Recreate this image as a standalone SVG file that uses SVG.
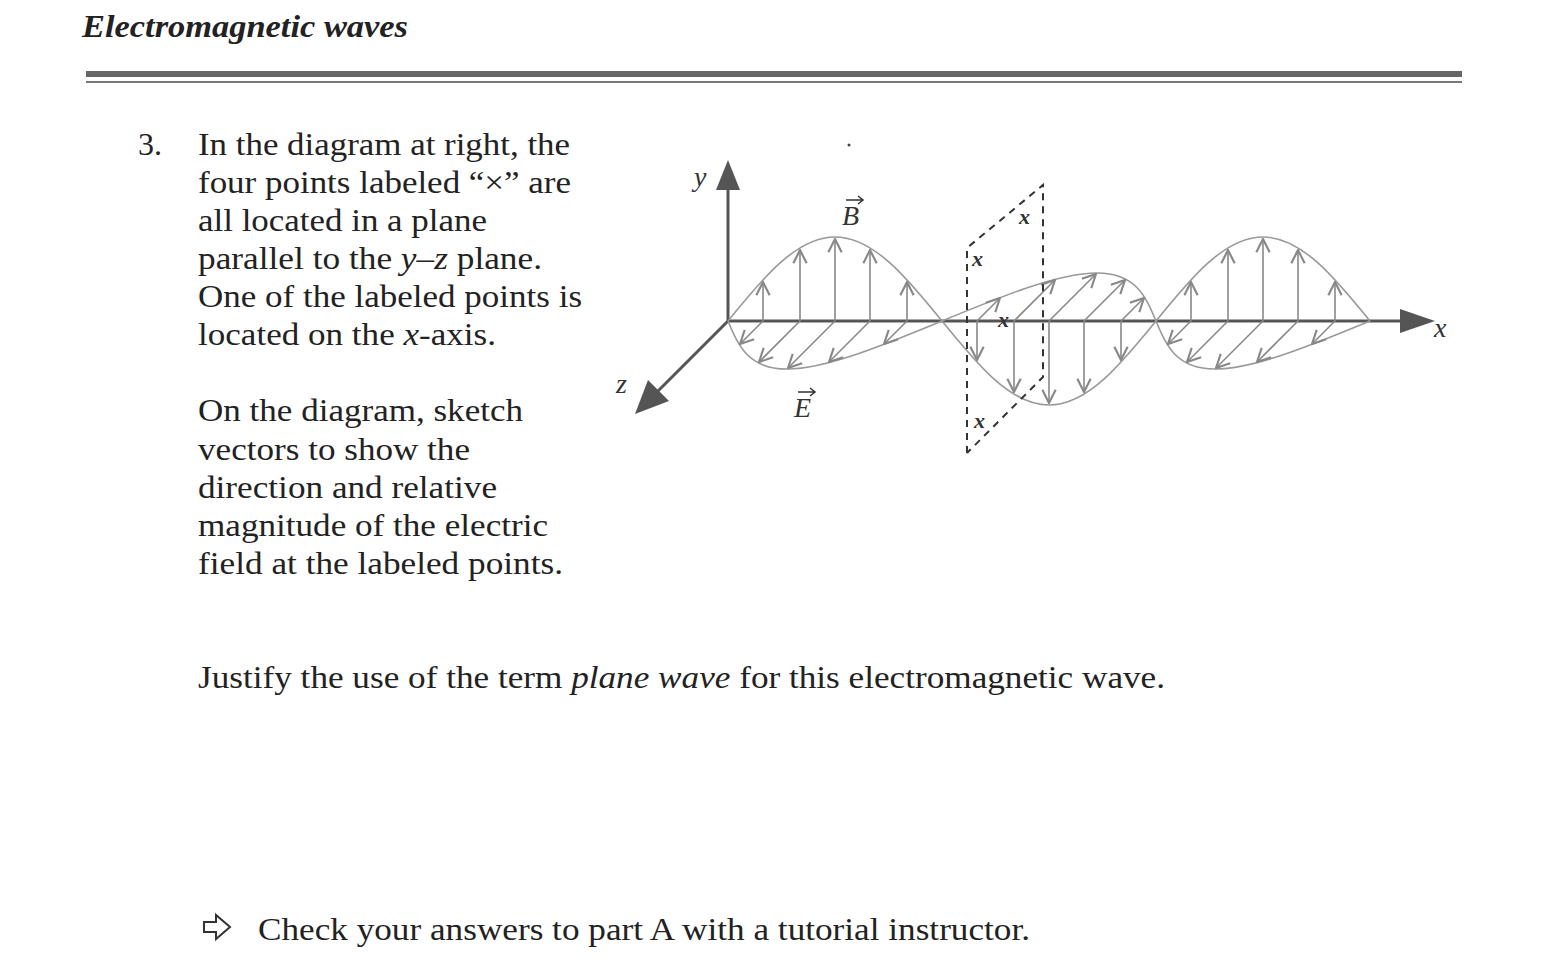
<svg xmlns="http://www.w3.org/2000/svg" width="1550" height="974" viewBox="0 0 1550 974">
<style>
.t{font-family:"Liberation Serif",serif;font-size:32px;fill:#222}
.i{font-style:italic}
.wave{fill:none;stroke:#999;stroke-width:1.6}
.v line{stroke:#888;stroke-width:1.6;marker-end:url(#oh)}
.ax{stroke:#555;stroke-width:3;fill:none}
.dash{stroke:#333;stroke-width:2;stroke-dasharray:7 6;fill:none}
.lab{font-family:"Liberation Serif",serif;font-size:28px;font-style:italic;fill:#333}
.xm{font-family:"Liberation Serif",serif;font-size:22px;font-style:italic;font-weight:bold;fill:#333}
</style>
<defs>
<marker id="oh" viewBox="0 0 12 12" refX="11" refY="6" markerWidth="16" markerHeight="16" markerUnits="userSpaceOnUse" orient="auto">
<path d="M1,1 L11,6 L1,11" fill="none" stroke="#888" stroke-width="1.6"/>
</marker>
</defs>
<rect width="1550" height="974" fill="#fff"/>
<text x="82" y="37" class="t i" font-weight="bold" textLength="326" lengthAdjust="spacingAndGlyphs">Electromagnetic waves</text>
<rect x="86" y="71" width="1376" height="6" fill="#666"/>
<rect x="86" y="81" width="1376" height="2" fill="#777"/>

<g id="question-text">
<text x="138" y="155" class="t">3.</text>
<text x="198" y="155" class="t" textLength="372" lengthAdjust="spacingAndGlyphs">In the diagram at right, the</text>
<text x="198" y="193" class="t" textLength="373" lengthAdjust="spacingAndGlyphs">four points labeled “×” are</text>
<text x="198" y="231" class="t" textLength="289" lengthAdjust="spacingAndGlyphs">all located in a plane</text>
<text x="198" y="269" class="t" textLength="344" lengthAdjust="spacingAndGlyphs">parallel to the <tspan class="i">y–z</tspan> plane.</text>
<text x="198" y="307" class="t" textLength="384" lengthAdjust="spacingAndGlyphs">One of the labeled points is</text>
<text x="198" y="345" class="t" textLength="298" lengthAdjust="spacingAndGlyphs">located on the <tspan class="i">x</tspan>-axis.</text>
<text x="198" y="421" class="t" textLength="325" lengthAdjust="spacingAndGlyphs">On the diagram, sketch</text>
<text x="198" y="460" class="t" textLength="272" lengthAdjust="spacingAndGlyphs">vectors to show the</text>
<text x="198" y="498" class="t" textLength="299" lengthAdjust="spacingAndGlyphs">direction and relative</text>
<text x="198" y="536" class="t" textLength="350" lengthAdjust="spacingAndGlyphs">magnitude of the electric</text>
<text x="198" y="574" class="t" textLength="365" lengthAdjust="spacingAndGlyphs">field at the labeled points.</text>
<text x="198" y="688" class="t" textLength="967" lengthAdjust="spacingAndGlyphs">Justify the use of the term <tspan class="i">plane wave</tspan> for this electromagnetic wave.</text>
<text x="258" y="940" class="t" textLength="772" lengthAdjust="spacingAndGlyphs">Check your answers to part A with a tutorial instructor.</text>
<path d="M204,922 H216 V915 L230,927 L216,939 V932 H204 Z" fill="none" stroke="#333" stroke-width="2"/>
</g>

<g id="axes">
<path class="ax" d="M728,321 V185"/>
<path d="M728,160 L740,190 L716,190 Z" fill="#555"/>
<path class="ax" d="M728,321 H1405"/>
<path d="M1435,321 L1400,309 L1400,333 Z" fill="#555"/>
<path class="ax" d="M728,321 L655,394"/>
<path d="M635,414 L648,380 L669,401 Z" fill="#555"/>
<text x="694" y="186" class="lab">y</text>
<text x="616" y="393" class="lab">z</text>
<text x="1434" y="337" class="lab">x</text>
<circle cx="849" cy="145" r="1.5" fill="#444"/>
</g>

<g id="B-wave">
<path class="wave" d="M728,321 C762.9,278 796.3,237 835,237 C873.7,237 907.1,278 942,321 C976.9,364 1010.3,405 1049,405 C1087.7,405 1121.1,364 1156,321 C1190.9,278 1224.3,237 1263,237 C1301.7,237 1335.1,278 1370,321"/>
<g class="v">
<line x1="763" y1="321" x2="763" y2="282"/><line x1="800" y1="321" x2="800" y2="250"/><line x1="835" y1="321" x2="835" y2="239"/><line x1="870" y1="321" x2="870" y2="250"/><line x1="907" y1="321" x2="907" y2="282"/>
<line x1="977" y1="321" x2="977" y2="360"/><line x1="1014" y1="321" x2="1014" y2="392"/><line x1="1049" y1="321" x2="1049" y2="403"/><line x1="1084" y1="321" x2="1084" y2="392"/><line x1="1121" y1="321" x2="1121" y2="360"/>
<line x1="1191" y1="321" x2="1191" y2="282"/><line x1="1228" y1="321" x2="1228" y2="250"/><line x1="1263" y1="321" x2="1263" y2="239"/><line x1="1298" y1="321" x2="1298" y2="250"/><line x1="1335" y1="321" x2="1335" y2="282"/>
</g>
<text x="842" y="225" class="lab">B</text>
<path d="M846,200 H862 M858,196 L863,200 L858,204" stroke="#333" stroke-width="1.5" fill="none"/>
</g>

<g id="E-wave">
<path class="wave" d="M728,321 C738.3,345.6 748.3,369 787,369 C825.7,369 882.5,345.6 942,321 C1001.5,296.4 1058.3,273 1097,273 C1135.7,273 1145.7,296.4 1156,321 C1166.3,345.6 1176.3,369 1215,369 C1253.7,369 1310.5,345.6 1370,321"/>
<g class="v">
<line x1="763" y1="321" x2="740" y2="344"/><line x1="800" y1="321" x2="759" y2="362"/><line x1="835" y1="321" x2="788" y2="368"/><line x1="870" y1="321" x2="829" y2="362"/><line x1="907" y1="321" x2="884" y2="344"/>
<line x1="977" y1="321" x2="1000" y2="298"/><line x1="1014" y1="321" x2="1055" y2="280"/><line x1="1049" y1="321" x2="1096" y2="274"/><line x1="1084" y1="321" x2="1125" y2="280"/><line x1="1121" y1="321" x2="1144" y2="298"/>
<line x1="1191" y1="321" x2="1168" y2="344"/><line x1="1228" y1="321" x2="1187" y2="362"/><line x1="1263" y1="321" x2="1216" y2="368"/><line x1="1298" y1="321" x2="1257" y2="362"/><line x1="1335" y1="321" x2="1312" y2="344"/>
</g>
<text x="794" y="417" class="lab">E</text>
<path d="M798,392 H814 M810,388 L815,392 L810,396" stroke="#333" stroke-width="1.5" fill="none"/>
</g>

<g id="plane">
<path class="dash" d="M967,453 V248 L1043,185 V377 L967,453"/>
<text x="972" y="266" class="xm">x</text>
<text x="1019" y="224" class="xm">x</text>
<text x="998" y="327" class="xm">x</text>
<text x="974" y="428" class="xm">x</text>
</g>
</svg>
